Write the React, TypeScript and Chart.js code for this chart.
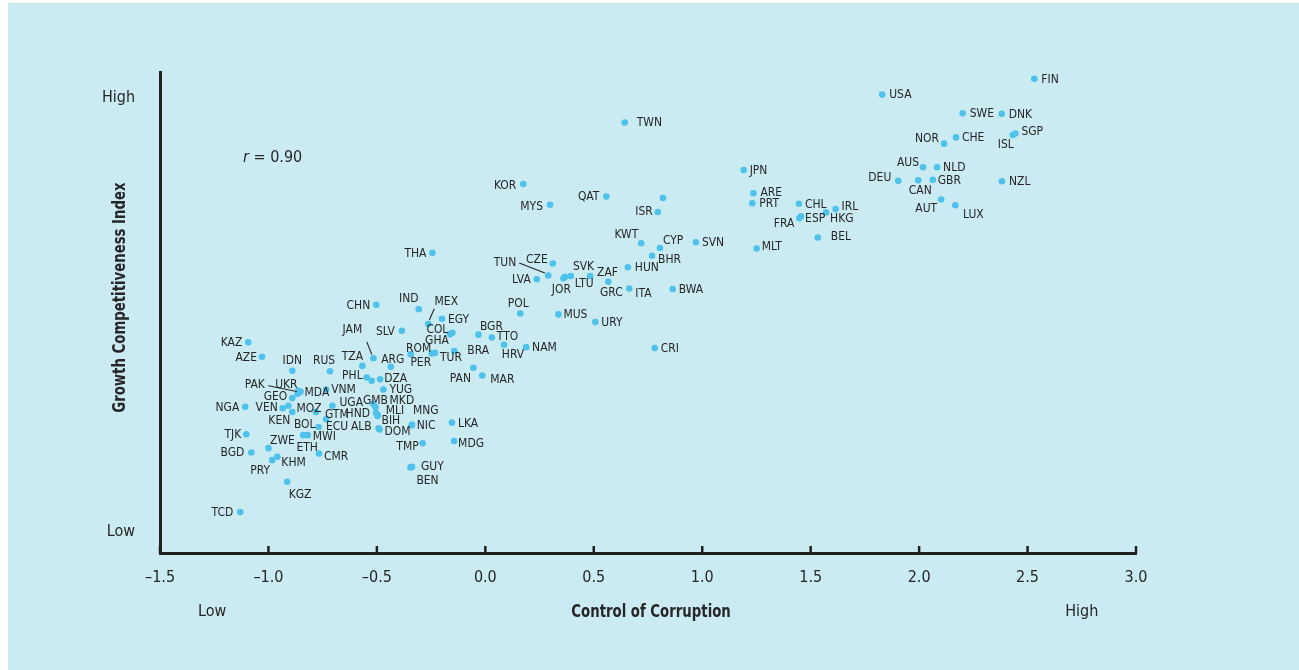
import React, { useEffect, useRef } from 'react';
import { Chart, registerables } from 'chart.js';

Chart.register(...registerables);

// ---- data ----
const codes = [
  'FIN','USA','SWE','DNK','NOR','CHE','ISL','SGP','AUS','NLD','DEU','CAN','GBR','NZL','AUT','LUX',
  'TWN','JPN','ARE','PRT','CHL','ESP','FRA','HKG','IRL','BEL','MLT','KOR','MYS','QAT','','ISR',
  'KWT','CYP','SVN','BHR','HUN','ZAF','LTU','SVK','JOR','GRC','ITA','BWA','CZE','TUN','LVA','THA',
  'POL','MUS','URY','CRI','NAM','HRV','TTO','BGR','BRA','TUR','PER','ROM','GHA','COL','MEX','EGY',
  'IND','CHN','SLV','PAN','MAR','JAM','ARG','TZA','RUS','IDN','KAZ','AZE','PHL','','DZA','YUG',
  'VNM','UKR','PAK','MDA','GEO','NGA','VEN','MOZ','KEN','GTM','UGA','ECU','BOL','MWI','ETH','ZWE',
  'TJK','BGD','PRY','KHM','CMR','KGZ','TCD','GMB','MKD','HND','MLI','BIH','ALB','DOM','NIC','MNG',
  'TMP','LKA','MDG','GUY','BEN',
];

// Control of Corruption (x)
const corruption = [
  2.531,1.830,2.201,2.381,2.115,2.170,2.432,2.444,2.018,2.083,1.904,1.996,2.063,2.382,2.102,2.167,
  0.643,1.191,1.236,1.231,1.446,1.456,1.448,1.571,1.615,1.533,1.251,0.175,0.298,0.558,0.819,0.795,
  0.719,0.805,0.971,0.769,0.657,0.483,0.394,0.367,0.360,0.567,0.664,0.864,0.311,0.290,0.237,-0.244,
  0.161,0.337,0.507,0.781,0.188,0.086,0.030,-0.032,-0.143,-0.232,-0.247,-0.344,-0.163,-0.152,-0.263,-0.200,
  -0.307,-0.503,-0.385,-0.055,-0.014,-0.516,-0.436,-0.567,-0.716,-0.890,-1.093,-1.030,-0.547,-0.524,-0.485,-0.470,
  -0.734,-0.862,-0.865,-0.852,-0.890,-1.107,-0.934,-0.908,-0.890,-0.781,-0.705,-0.734,-0.769,-0.819,-0.840,-1.000,
  -1.102,-1.079,-0.983,-0.959,-0.767,-0.914,-1.130,-0.516,-0.506,-0.504,-0.496,-0.497,-0.492,-0.488,-0.339,-0.338,
  -0.289,-0.154,-0.144,-0.338,-0.345,
];

// Growth Competitiveness Index (y, relative 0-100 scale)
const competitiveness = [
  98.6,95.3,91.4,91.3,85.1,86.4,86.9,87.2,80.2,80.2,77.4,77.5,77.6,77.3,73.5,72.3,
  89.5,79.6,74.8,72.7,72.6,70.0,69.6,70.8,71.5,65.6,63.3,76.7,72.4,74.1,73.8,70.9,
  64.4,63.4,64.6,61.8,59.4,57.6,57.6,57.4,57.1,56.4,55.0,54.9,60.2,57.7,56.9,62.4,
  49.8,49.6,48.0,42.6,42.8,43.3,44.8,45.4,42.0,41.6,41.5,41.3,45.5,45.8,47.6,48.7,
  50.7,51.6,46.2,38.5,36.9,40.5,38.7,38.9,37.8,37.9,43.8,40.8,36.5,35.8,36.1,34.0,
  34.0,33.7,33.1,33.5,32.2,30.4,30.1,30.6,29.3,29.3,30.6,27.8,26.2,24.5,24.5,21.8,
  24.7,20.9,19.3,20.0,20.7,14.8,8.5,31.0,30.3,29.1,28.7,28.5,25.9,25.7,26.5,26.7,
  22.8,27.1,23.3,17.9,17.8,
];

const xMin = -1.5;
const xMax = 3.0;
const xStep = 0.5;
const yTickValues = [4.3, 94.6];
const yTickLabels = ['Low', 'High'];
const xEndValues = [-1.26, 2.75];
const xEndLabels = ['Low', 'High'];
const xTitle = 'Control of Corruption';
const yTitle = 'Growth Competitiveness Index';
const rText = '0.90';

// ---- label placement (align, dx, dy in px relative to the dot) ----
const labelPlace: Record<string, [string, number, number]> = {
  FIN:['l',7,0],USA:['l',7,0],SWE:['l',7,0],DNK:['l',7,0],NOR:['r',-5,-6],CHE:['l',6,0],ISL:['c',-7,9],SGP:['l',6,-2],
  AUS:['r',-4,-5],NLD:['l',6,0],DEU:['r',-7,-4],CAN:['c',2,10],GBR:['l',5,0],NZL:['l',7,0],AUT:['c',-15,9],LUX:['c',18,9],
  TWN:['l',12,0],JPN:['l',6,0],ARE:['l',7,-1],PRT:['l',7,0],CHL:['l',6,0],ESP:['l',4,2],FRA:['r',-5,5],HKG:['l',4,6],
  IRL:['l',6,-3],BEL:['l',13,-1],MLT:['l',5,-2],KOR:['r',-7,1],MYS:['r',-7,1],QAT:['r',-7,0],ISR:['r',-5,-1],
  KWT:['r',-3,-9],CYP:['l',3,-8],SVN:['l',6,0],BHR:['l',6,3],HUN:['l',7,0],ZAF:['l',7,-4],LTU:['l',4,7],SVK:['l',8,-11],
  JOR:['c',-2,11],GRC:['c',3,10],ITA:['l',6,5],BWA:['l',6,0],CZE:['r',-5,-4],TUN:['r',-32,-13],LVA:['r',-6,0],THA:['r',-6,0],
  POL:['c',-2,-10],MUS:['l',5,0],URY:['l',6,0],CRI:['l',6,0],NAM:['l',6,0],HRV:['c',9,9],TTO:['l',5,-1],BGR:['c',13,-9],
  BRA:['l',13,-1],TUR:['l',5,4],PER:['c',-11,9],ROM:['c',8,-6],GHA:['c',-13,6],COL:['r',-4,-4],MEX:['c',18,-23],EGY:['l',6,0],
  IND:['c',-10,-11],CHN:['r',-6,0],SLV:['r',-7,0],PAN:['c',-13,10],MAR:['c',20,4],JAM:['c',-21,-29],ARG:['c',2,-8],TZA:['c',-10,-10],
  RUS:['c',-6,-11],IDN:['c',0,-11],KAZ:['r',-6,0],AZE:['r',-5,0],PHL:['r',-4,-2],DZA:['l',4,-1],YUG:['l',6,0],
  VNM:['l',5,0],UKR:['c',-12,-7],PAK:['c',-43,-10],MDA:['l',4,0],GEO:['r',-5,-2],NGA:['r',-6,0],VEN:['r',-5,-1],MOZ:['l',8,2],
  KEN:['c',-13,8],GTM:['l',9,2],UGA:['l',7,-4],ECU:['c',11,7],BOL:['r',-3,-3],MWI:['l',5,1],ETH:['c',4,12],ZWE:['c',14,-8],
  TJK:['r',-5,0],BGD:['r',-7,0],PRY:['c',-12,10],KHM:['l',4,5],CMR:['l',5,3],KGZ:['c',13,12],TCD:['r',-7,0],
  GMB:['c',2,-4],MKD:['l',14,-7],HND:['r',-6,0],MLI:['l',8,-5],BIH:['l',4,4],ALB:['r',-7,-2],DOM:['l',5,2],NIC:['l',5,0],MNG:['l',1,-14],
  TMP:['r',-4,3],LKA:['l',6,0],MDG:['l',4,2],GUY:['l',9,-1],BEN:['c',17,13],
};
// leader lines: [x1, y1, x2, y2] offsets from the dot
const leaders: Record<string, [number, number, number, number]> = {
  TUN: [-29, -12.4, -3.3, -2.4],
  MEX: [6, -15.3, 1, -4],
  JAM: [-6.6, -16.3, -1.6, -3.7],
  PAK: [-29.4, -8, -1, -2.3],
};

// ---- styles ----
const FONT = '"Liberation Sans Narrow", "Arial Narrow", "DejaVu Sans Condensed", sans-serif';
const BG = '#cbebf3';
const DOT = '#4ec2ea';
const INK = '#262626';
const AXIS = '#1f1f1f';
const LABEL_SQUEEZE = 0.92;
const TITLE_SQUEEZE = 0.82;

const fmt = (v: number) => {
  const s = Math.abs(v).toFixed(1);
  return v < -1e-9 ? '\u2013' + s : s;
};

const squeezedText = (ctx: any, text: string, x: number, y: number, sx: number) => {
  ctx.save();
  ctx.translate(x, y);
  ctx.scale(sx, 1);
  ctx.fillText(text, 0, 0);
  ctx.restore();
};

const overlay = {
  id: 'overlay',
  afterDraw(chart: any) {
    const { ctx, chartArea, scales } = chart;
    const xs = scales.x;
    const ys = scales.y;
    ctx.save();
    // inward tick marks
    ctx.strokeStyle = AXIS;
    ctx.lineWidth = 2.5;
    for (let v = xMin; v <= xMax + 1e-9; v += xStep) {
      const px = xs.getPixelForValue(v);
      ctx.beginPath();
      ctx.moveTo(px, chartArea.bottom);
      ctx.lineTo(px, chartArea.bottom - 7);
      ctx.stroke();
    }
    // leaders
    const meta = chart.getDatasetMeta(0);
    ctx.lineWidth = 1.1;
    ctx.strokeStyle = INK;
    codes.forEach((c, i) => {
      const L = leaders[c];
      if (!L) return;
      const el = meta.data[i];
      ctx.beginPath();
      ctx.moveTo(el.x + L[0], el.y + L[1]);
      ctx.lineTo(el.x + L[2], el.y + L[3]);
      ctx.stroke();
    });
    // country labels
    ctx.fillStyle = INK;
    ctx.font = `13px ${FONT}`;
    ctx.textBaseline = 'middle';
    codes.forEach((c, i) => {
      const p = labelPlace[c];
      if (!c || !p) return;
      const el = meta.data[i];
      ctx.textAlign = p[0] === 'l' ? 'left' : p[0] === 'r' ? 'right' : 'center';
      squeezedText(ctx, c, el.x + p[1], el.y + p[2] + 0.5, LABEL_SQUEEZE);
    });
    // r = 0.90
    const rx = xs.getPixelForValue(-1.117);
    const ry = ys.getPixelForValue(82.1);
    ctx.textAlign = 'left';
    ctx.font = `italic 16px ${FONT}`;
    ctx.fillText('r', rx, ry);
    const rw = ctx.measureText('r ').width;
    ctx.font = `16px ${FONT}`;
    ctx.fillText('= ' + rText, rx + rw, ry);
    // x end labels
    ctx.textAlign = 'center';
    const ty = chartArea.bottom + 59;
    xEndValues.forEach((v, i) => ctx.fillText(xEndLabels[i], xs.getPixelForValue(v), ty));
    // titles
    ctx.font = `bold 18px ${FONT}`;
    squeezedText(ctx, xTitle, xs.getPixelForValue(0.764), ty, TITLE_SQUEEZE);
    ctx.translate(chartArea.left - 40, ys.getPixelForValue(53.1));
    ctx.rotate(-Math.PI / 2);
    squeezedText(ctx, yTitle, 0, 0, TITLE_SQUEEZE);
    ctx.restore();
  },
};

export default function App() {
  const ref = useRef<HTMLCanvasElement>(null);
  useEffect(() => {
    if (!ref.current) return;
    Chart.defaults.font.family = FONT;
    const chart = new Chart(ref.current, {
      type: 'scatter',
      data: {
        datasets: [
          {
            data: codes.map((_, i) => ({ x: corruption[i], y: competitiveness[i] })),
            backgroundColor: DOT,
            borderWidth: 0,
            pointRadius: 3.3,
            pointHoverRadius: 3.3,
          },
        ],
      },
      options: {
        animation: false,
        responsive: true,
        maintainAspectRatio: false,
        events: [],
        layout: { padding: { left: 0, top: 69, right: 163, bottom: 0 } },
        plugins: { legend: { display: false }, tooltip: { enabled: false } },
        scales: {
          x: {
            type: 'linear',
            min: xMin,
            max: xMax,
            ticks: {
              stepSize: xStep,
              color: INK,
              font: { size: 16, family: FONT },
              padding: 15,
              callback: (v: any) => fmt(Number(v)),
            },
            grid: { color: 'rgba(0,0,0,0)', drawTicks: false },
            border: { color: AXIS, width: 3 },
            afterFit: (s: any) => {
              s.height = 117;
            },
          },
          y: {
            type: 'linear',
            min: 0,
            max: 100,
            afterBuildTicks: (s: any) => {
              s.ticks = yTickValues.map((v) => ({ value: v }));
            },
            ticks: {
              color: INK,
              font: { size: 16, family: FONT },
              padding: 25,
              callback: (v: any) => {
                const k = yTickValues.indexOf(Number(v));
                return k >= 0 ? yTickLabels[k] : '';
              },
            },
            grid: { color: 'rgba(0,0,0,0)', drawTicks: false },
            border: { color: AXIS, width: 3 },
            afterFit: (s: any) => {
              s.width = 152;
            },
          },
        },
      },
      plugins: [overlay],
    });
    return () => chart.destroy();
  }, []);
  return (
    <div style={{ position: 'fixed', left: 8, top: 3, width: 1291, height: 667, background: BG }}>
      <canvas ref={ref} />
    </div>
  );
}
